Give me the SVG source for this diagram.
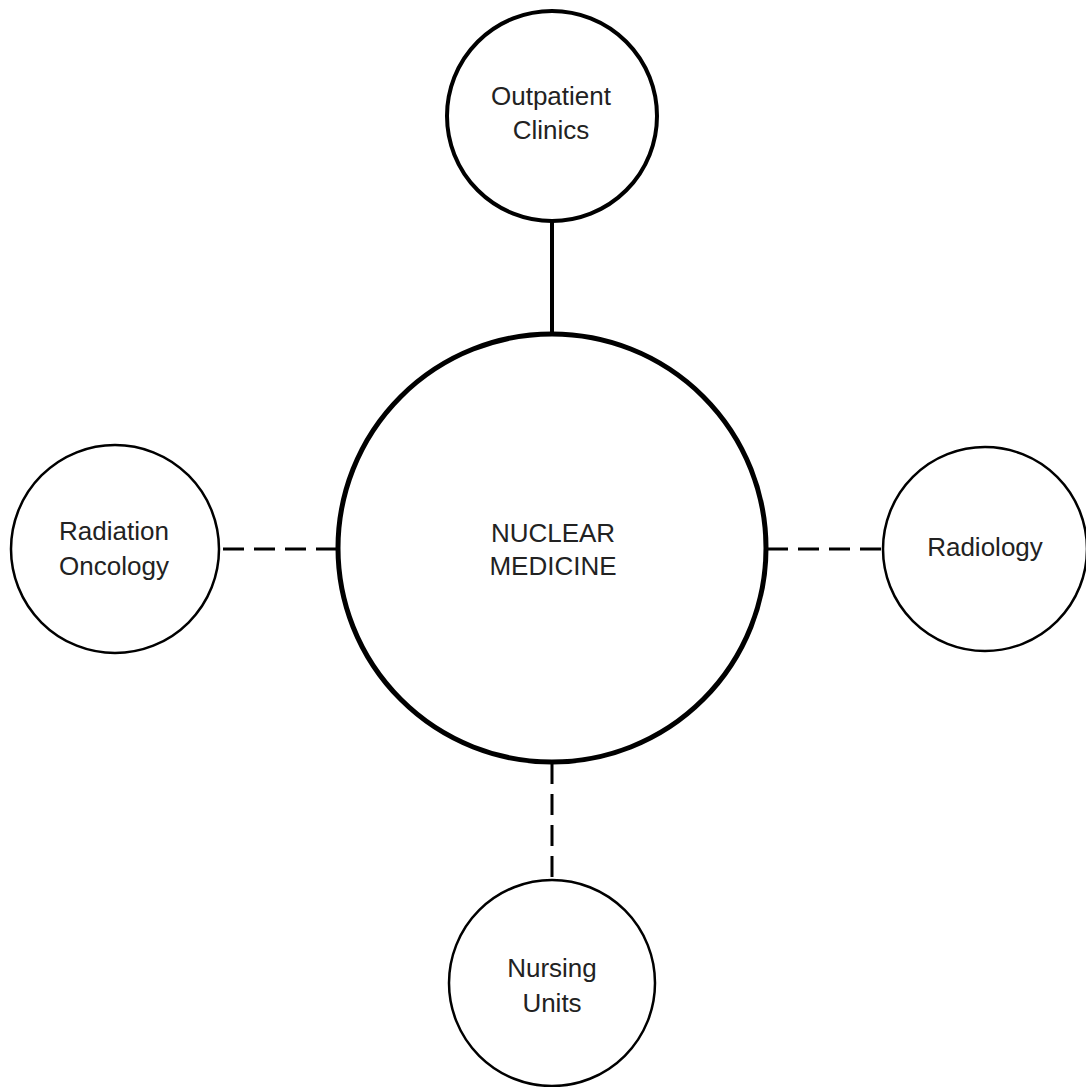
<svg xmlns="http://www.w3.org/2000/svg" width="1086" height="1087" viewBox="0 0 1086 1087">
<style>
.node{fill:#fff;stroke:#000}
.lbl{font-family:"Liberation Sans",Arial,sans-serif;font-size:26px;fill:#222;text-anchor:middle}
.solid{stroke:#000;stroke-width:4;fill:none}
.dash{stroke:#000;stroke-width:3;fill:none;stroke-dasharray:21 10}
</style>
<rect width="1086" height="1087" fill="#fff"/>
<g id="connectors">
<line class="solid" x1="552" y1="220" x2="552" y2="334"/>
<line class="dash" x1="337" y1="549" x2="220" y2="549"/>
<line class="dash" x1="767" y1="549" x2="883" y2="549"/>
<line class="dash" x1="552" y1="763" x2="552" y2="880"/>
</g>
<g id="nuclear-medicine">
<circle class="node" cx="552" cy="548" r="214" stroke-width="5"/>
<text class="lbl" x="553" y="542">NUCLEAR</text>
<text class="lbl" x="553" y="575">MEDICINE</text>
</g>
<g id="outpatient-clinics">
<circle class="node" cx="552" cy="116" r="105" stroke-width="4"/>
<text class="lbl" x="551" y="105">Outpatient</text>
<text class="lbl" x="551" y="139">Clinics</text>
</g>
<g id="radiation-oncology">
<circle class="node" cx="115" cy="549" r="104" stroke-width="2.5"/>
<text class="lbl" x="114" y="540">Radiation</text>
<text class="lbl" x="114" y="575">Oncology</text>
</g>
<g id="radiology">
<circle class="node" cx="985" cy="549" r="102" stroke-width="2.5"/>
<text class="lbl" x="985" y="556">Radiology</text>
</g>
<g id="nursing-units">
<circle class="node" cx="552" cy="983" r="103" stroke-width="2.5"/>
<text class="lbl" x="552" y="977">Nursing</text>
<text class="lbl" x="552" y="1012">Units</text>
</g>
</svg>
